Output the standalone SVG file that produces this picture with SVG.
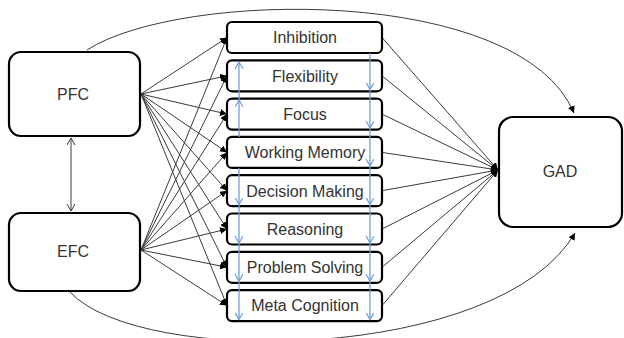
<svg xmlns="http://www.w3.org/2000/svg" width="624" height="338" viewBox="0 0 624 338">
<style>
.box{fill:#fff;stroke:#000;stroke-width:2.2}
.lbl{font-family:"Liberation Sans",Arial,sans-serif;font-size:16px;fill:#333;text-anchor:middle}
.c{fill:none;stroke:#3a3a3a;stroke-width:1}
.b{fill:none;stroke:#6f9fd8;stroke-width:1.3}
</style>
<defs>
<marker id="ah" markerUnits="userSpaceOnUse" markerWidth="8" markerHeight="7" refX="7" refY="3.5" orient="auto"><path d="M0,0 L7,3.5 L0,7 z" fill="#000"/></marker>
<marker id="oa" markerUnits="userSpaceOnUse" markerWidth="10" markerHeight="10" refX="7" refY="4" orient="auto-start-reverse"><path d="M0,0 L7,4 L0,8" fill="none" stroke="#3a3a3a" stroke-width="1"/></marker>
<marker id="ba" markerUnits="userSpaceOnUse" markerWidth="10" markerHeight="10" refX="7" refY="4" orient="auto"><path d="M0,0 L7,4 L0,8" fill="none" stroke="#6f9fd8" stroke-width="1.2"/></marker>
</defs>
<g id="connectors">
<path class="c" d="M87,50 C180,-10 520,-15 574,113" marker-end="url(#ah)"/>
<path class="c" d="M70,292 C140,368 500,362 575,233" marker-end="url(#ah)"/>
<line class="c" x1="71" y1="138" x2="71" y2="211" marker-start="url(#oa)" marker-end="url(#oa)"/>
<g marker-end="url(#ah)">
<line class="c" x1="141" y1="94" x2="227" y2="37.5"/>
<line class="c" x1="141" y1="94" x2="227" y2="75.8"/>
<line class="c" x1="141" y1="94" x2="227" y2="114.1"/>
<line class="c" x1="141" y1="94" x2="227" y2="152.4"/>
<line class="c" x1="141" y1="94" x2="227" y2="190.7"/>
<line class="c" x1="141" y1="94" x2="227" y2="229"/>
<line class="c" x1="141" y1="94" x2="227" y2="267.3"/>
<line class="c" x1="141" y1="94" x2="227" y2="305.6"/>
<line class="c" x1="141" y1="250" x2="227" y2="37.5"/>
<line class="c" x1="141" y1="250" x2="227" y2="75.8"/>
<line class="c" x1="141" y1="250" x2="227" y2="114.1"/>
<line class="c" x1="141" y1="250" x2="227" y2="152.4"/>
<line class="c" x1="141" y1="250" x2="227" y2="190.7"/>
<line class="c" x1="141" y1="250" x2="227" y2="229"/>
<line class="c" x1="141" y1="250" x2="227" y2="267.3"/>
<line class="c" x1="141" y1="250" x2="227" y2="305.6"/>
<line class="c" x1="382" y1="37.5" x2="498" y2="170"/>
<line class="c" x1="382" y1="75.8" x2="498" y2="170"/>
<line class="c" x1="382" y1="114.1" x2="498" y2="170"/>
<line class="c" x1="382" y1="152.4" x2="498" y2="170"/>
<line class="c" x1="382" y1="190.7" x2="498" y2="170"/>
<line class="c" x1="382" y1="229" x2="498" y2="170"/>
<line class="c" x1="382" y1="267.3" x2="498" y2="170"/>
<line class="c" x1="382" y1="305.6" x2="498" y2="170"/>
</g>
</g>
<g id="n-pfc"><rect class="box" x="9" y="52" width="131" height="84" rx="12"/><text class="lbl" x="73" y="100">PFC</text></g>
<g id="n-efc"><rect class="box" x="9" y="213" width="131" height="78" rx="12"/><text class="lbl" x="73" y="257">EFC</text></g>
<g id="n-gad"><rect class="box" x="499" y="117" width="123" height="110" rx="14"/><text class="lbl" x="560" y="177">GAD</text></g>
<g id="n-inhibition"><rect class="box" x="227" y="22" width="155" height="31" rx="5"/><text class="lbl" x="305" y="43.3">Inhibition</text></g>
<g id="n-flexibility"><rect class="box" x="227" y="60.3" width="155" height="31" rx="5"/><text class="lbl" x="305" y="81.6">Flexibility</text></g>
<g id="n-focus"><rect class="box" x="227" y="98.6" width="155" height="31" rx="5"/><text class="lbl" x="305" y="119.9">Focus</text></g>
<g id="n-working-memory"><rect class="box" x="227" y="136.9" width="155" height="31" rx="5"/><text class="lbl" x="305" y="158.2">Working Memory</text></g>
<g id="n-decision-making"><rect class="box" x="227" y="175.2" width="155" height="31" rx="5"/><text class="lbl" x="305" y="196.5">Decision Making</text></g>
<g id="n-reasoning"><rect class="box" x="227" y="213.5" width="155" height="31" rx="5"/><text class="lbl" x="305" y="234.8">Reasoning</text></g>
<g id="n-problem-solving"><rect class="box" x="227" y="251.8" width="155" height="31" rx="5"/><text class="lbl" x="305" y="273.1">Problem Solving</text></g>
<g id="n-meta-cognition"><rect class="box" x="227" y="290.1" width="155" height="31" rx="5"/><text class="lbl" x="305" y="311.4">Meta Cognition</text></g>
<g id="blue-connectors">
<line class="b" x1="239" y1="137" x2="239" y2="100" marker-end="url(#ba)"/>
<line class="b" x1="239" y1="100" x2="239" y2="62" marker-end="url(#ba)"/>
<line class="b" x1="239" y1="168" x2="239" y2="204.5" marker-end="url(#ba)"/>
<line class="b" x1="239" y1="204.5" x2="239" y2="243" marker-end="url(#ba)"/>
<line class="b" x1="239" y1="243" x2="239" y2="281" marker-end="url(#ba)"/>
<line class="b" x1="239" y1="281" x2="239" y2="319.5" marker-end="url(#ba)"/>
<line class="b" x1="370" y1="53" x2="370" y2="89.5" marker-end="url(#ba)"/>
<line class="b" x1="370" y1="89.5" x2="370" y2="128" marker-end="url(#ba)"/>
<line class="b" x1="370" y1="128" x2="370" y2="166" marker-end="url(#ba)"/>
<line class="b" x1="370" y1="166" x2="370" y2="204.5" marker-end="url(#ba)"/>
<line class="b" x1="370" y1="204.5" x2="370" y2="243" marker-end="url(#ba)"/>
<line class="b" x1="370" y1="243" x2="370" y2="281" marker-end="url(#ba)"/>
<line class="b" x1="370" y1="281" x2="370" y2="319.5" marker-end="url(#ba)"/>
</g>
</svg>
